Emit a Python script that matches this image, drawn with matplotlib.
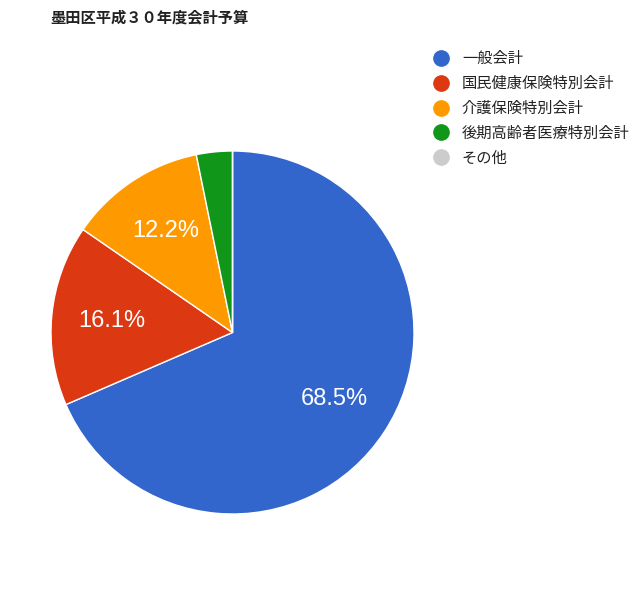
import matplotlib.pyplot as plt
from matplotlib.lines import Line2D

plt.rcParams['font.family'] = ['Noto Sans CJK JP', 'DejaVu Sans']

# データ
labels = ["一般会計", "国民健康保険特別会計", "介護保険特別会計", "後期高齢者医療特別会計", "その他"]
values = [68.5, 16.1, 12.2, 3.2, 0.0]
colors = ["#3366cc", "#dc3912", "#ff9900", "#109618", "#cccccc"]
title = "墨田区平成３０年度会計予算"

W, H = 640, 609
fig = plt.figure(figsize=(W / 100, H / 100), dpi=100)

# 円の中心と半径 (px)
cx, cy, r = 232.5, 332.5, 181.5
ax = fig.add_axes([(cx - r) / W, 1 - (cy + r) / H, 2 * r / W, 2 * r / H])

def pct(p):
    return "%.1f%%" % p if p > 5 else ""

wedges, texts, autotexts = ax.pie(
    values, colors=colors, startangle=90, counterclock=False,
    autopct=pct, pctdistance=0.67, radius=1.0,
    wedgeprops=dict(edgecolor="white", linewidth=1),
    textprops=dict(color="white", fontsize=17, family=["Liberation Sans", "DejaVu Sans"]),
)
ax.set_xlim(-1, 1)
ax.set_ylim(-1, 1)
ax.set_aspect("equal")
ax.axis("off")

fig.text(50 / W, 1 - 17 / H, title, fontsize=11, fontweight="bold",
         va="center", ha="left", color="#222222")

handles = [Line2D([], [], marker="o", linestyle="", markersize=11,
                  markerfacecolor=c, markeredgecolor=c, label=l)
           for c, l in zip(colors, labels)]
leg = fig.legend(handles=handles, loc="upper left",
                 bbox_to_anchor=(432 / W, 1 - 50 / H), frameon=False,
                 fontsize=11, labelspacing=0.52, handletextpad=0.76,
                 handlelength=1.2, borderaxespad=0, borderpad=0)
for t in leg.get_texts():
    t.set_color("#222222")

fig.savefig("out.png", dpi=100)
